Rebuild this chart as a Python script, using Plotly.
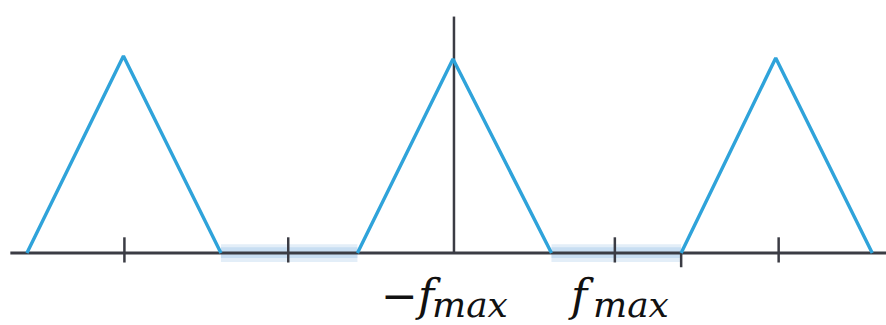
import plotly.graph_objects as go

# Sampled spectrum: three triangular replicas (frequency in units of f_max, amplitude normalised)
replica_x = [
    [-4.38, -3.39, -2.39],
    [-0.99, -0.01, 1.00],
    [2.33, 3.30, 4.29],
]
replica_y = [0.0, 1.0, 0.0]
peak_heights = [1.0, 0.985, 0.99]

# Gaps between replicas (highlighted on the axis)
gap_x = [(-2.39, -0.99), (1.00, 2.33)]

# Tick positions on the frequency axis
tick_full = [-3.38, -1.70, 1.65, 3.33]
tick_low = [2.33]

BLUE = "#2fa3da"
AXIS = "#3b3c44"

fig = go.Figure()

# light highlight bands on the axis between replicas
for x0, x1 in gap_x:
    fig.add_shape(type="rect", x0=x0, x1=x1, y0=-0.045, y1=0.045,
                  fillcolor="rgba(200,222,242,0.5)", line_width=0, layer="below")
    fig.add_shape(type="rect", x0=x0, x1=x1, y0=-0.025, y1=0.03,
                  fillcolor="rgba(160,198,232,0.4)", line_width=0, layer="below")

# frequency axis
fig.add_trace(go.Scatter(x=[-4.55, 4.6], y=[0, 0], mode="lines",
                         line=dict(color=AXIS, width=3), hoverinfo="skip"))
# amplitude axis
fig.add_trace(go.Scatter(x=[0, 0], y=[0, 1.20], mode="lines",
                         line=dict(color=AXIS, width=2.5), hoverinfo="skip"))

# ticks
for t in tick_full:
    fig.add_trace(go.Scatter(x=[t, t], y=[0.08, -0.048], mode="lines",
                             line=dict(color=AXIS, width=2.5), hoverinfo="skip"))
for t in tick_low:
    fig.add_trace(go.Scatter(x=[t, t], y=[0.0, -0.072], mode="lines",
                             line=dict(color=AXIS, width=2.5), hoverinfo="skip"))

# triangular spectra
for xs, h in zip(replica_x, peak_heights):
    fig.add_trace(go.Scatter(x=xs, y=[v * h for v in replica_y], mode="lines",
                             line=dict(color=BLUE, width=3.4), hoverinfo="skip"))

# axis labels
lab_font = dict(family="DejaVu Serif", color="#111111")
labels = [(-0.77, "−<i>f</i>", -0.245), (1.15, "<i>f</i>", 1.405)]
for x_main, main_txt, x_sub in labels:
    fig.add_annotation(x=x_main, y=-0.215, xref="x", yref="y", text=main_txt,
                       showarrow=False, xanchor="left", yanchor="middle",
                       font=dict(size=44, **lab_font))
    fig.add_annotation(x=x_sub, y=-0.262, xref="x", yref="y", text="<i>max</i>",
                       showarrow=False, xanchor="left", yanchor="middle",
                       font=dict(size=36, **lab_font))

fig.update_layout(
    width=886, height=325,
    margin=dict(l=0, r=0, t=0, b=0),
    paper_bgcolor="white", plot_bgcolor="white",
    showlegend=False,
    xaxis=dict(range=[-4.656, 4.431], visible=False, fixedrange=True),
    yaxis=dict(range=[-0.365, 1.284], visible=False, fixedrange=True),
)

fig.write_html("out.html")
